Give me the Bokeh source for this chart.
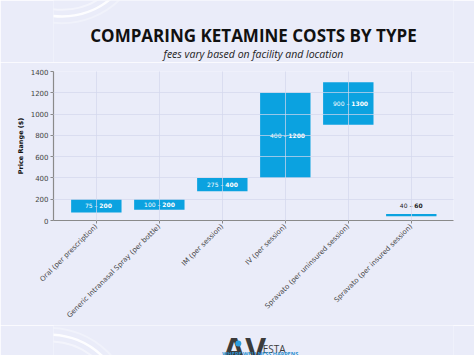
import math
from bokeh.plotting import figure
from bokeh.layouts import column
from bokeh.models import ColumnDataSource, FixedTicker, Range1d
from bokeh.core.properties import value
from bokeh.embed import file_html
from bokeh.resources import INLINE

# ---------------- data ----------------
categories = [
    "Oral (per prescription)",
    "Generic Intranasal Spray (per bottle)",
    "IM (per session)",
    "IV (per session)",
    "Spravato (per uninsured session)",
    "Spravato (per insured session)",
]
low_prices = [75, 100, 275, 400, 900, 40]
high_prices = [200, 200, 400, 1200, 1300, 60]
y_ticks = [0, 200, 400, 600, 800, 1000, 1200, 1400]

title_text = "COMPARING KETAMINE COSTS BY TYPE"
subtitle_text = "fees vary based on facility and location"
y_label = "Price Range ($)"

BG = "#EAECF9"
BAR = "#0BA2E0"
W = 474
HEAD_H, MAIN_H, FOOT_H = 62, 263, 30


def blank_fig(h):
    f = figure(width=W, height=h, output_backend="svg", toolbar_location=None,
               x_range=Range1d(0, W), y_range=Range1d(0, h),
               x_axis_location=None, y_axis_location=None,
               min_border=0, min_border_left=0, min_border_right=0,
               min_border_top=0, min_border_bottom=0,
               background_fill_color=BG, border_fill_color=BG, outline_line_color=None)
    f.grid.visible = False
    return f


# ---------------- header ----------------
head = blank_fig(HEAD_H)
for r, a, lw in [(90, 0.9, 2.5), (82, 0.45, 2.0), (98, 0.3, 2.0)]:
    head.circle(x=[10], y=[HEAD_H + 60], radius=r, fill_color=None,
                line_color="white", line_alpha=a, line_width=lw)
head.text(x=[237], y=[HEAD_H - 35], text=[title_text], text_align="center",
          text_baseline="middle", text_font=value("Open Sans"), text_font_style="bold",
          text_font_size="17px", text_color="#111111")
head.text(x=[237], y=[HEAD_H - 53], text=[subtitle_text], text_align="center",
          text_baseline="middle", text_font=value("Open Sans"), text_font_style="italic",
          text_font_size="10.5px", text_color="#222222")

# ---------------- main chart ----------------
xs = list(range(len(categories)))
tall = [(h - l) >= 100 for l, h in zip(low_prices, high_prices)]
src = ColumnDataSource(dict(
    x=xs,
    low=low_prices,
    high=high_prices,
    ty=[(l + h) / 2 if t else h for l, h, t in zip(low_prices, high_prices, tall)],
    tyoff=[0 if t else -9 for t in tall],
    lo_txt=[f"{l} \u2013 " for l in low_prices],
    hi_txt=[f"{h}" for h in high_prices],
    col=["white" if t else "#222222" for t in tall],
))

p = figure(width=W, height=MAIN_H, output_backend="svg", toolbar_location=None,
           x_range=Range1d(-0.68, 5.67), y_range=Range1d(0, 1400),
           min_border_left=53, min_border_right=21, min_border_top=9, min_border_bottom=103,
           background_fill_color=BG, border_fill_color=BG, outline_line_color=None)

p.vbar(x="x", bottom="low", top="high", width=0.8, source=src,
       fill_color=BAR, line_color=None)

p.text(x="x", y="ty", text="lo_txt", source=src, text_color="col",
       text_font=value("DejaVu Sans"), text_font_size="6px",
       text_align="right", text_baseline="middle", x_offset=3, y_offset="tyoff")
p.text(x="x", y="ty", text="hi_txt", source=src, text_color="col",
       text_font=value("DejaVu Sans"), text_font_size="6px", text_font_style="bold",
       text_align="left", text_baseline="middle", x_offset=3, y_offset="tyoff")

p.xaxis.ticker = FixedTicker(ticks=xs)
p.xaxis.major_label_overrides = {i: c for i, c in enumerate(categories)}
p.xaxis.major_label_orientation = math.pi / 4
p.yaxis.ticker = FixedTicker(ticks=y_ticks)
p.yaxis.axis_label = y_label
for ax in (p.xaxis, p.yaxis):
    ax.axis_line_color = "#8a8a8a"
    ax.axis_line_width = 1.2
    ax.major_tick_line_color = "#8a8a8a"
    ax.major_tick_in = 0
    ax.major_tick_out = 3
    ax.minor_tick_line_color = None
    ax.major_label_text_font = "DejaVu Sans"
    ax.major_label_text_font_size = "7px"
    ax.major_label_text_color = "#444444"
    ax.major_label_standoff = 2
p.yaxis.axis_label_text_font = "DejaVu Sans"
p.yaxis.axis_label_text_font_style = "bold"
p.yaxis.axis_label_text_font_size = "6.5px"
p.yaxis.axis_label_text_color = "#111111"
p.yaxis.axis_label_standoff = 3

for g in (p.xgrid, p.ygrid):
    g.grid_line_color = "#d3d7ec"
    g.grid_line_alpha = 0.7
    g.level = "overlay"

# ---------------- footer (logo) ----------------
foot = blank_fig(FOOT_H)
for r, a, lw in [(90, 0.9, 2.5), (82, 0.45, 2.0), (98, 0.3, 2.0)]:
    foot.circle(x=[-5], y=[-55], radius=r, fill_color=None,
                line_color="white", line_alpha=a, line_width=lw)
foot.text(x=[201], y=[FOOT_H - 23], text=["AV"], text_align="left",
          text_baseline="alphabetic", text_font=value("Open Sans"), text_font_style="bold",
          text_font_size="32px", text_color="#3b3b3b")
foot.scatter(x=[219], y=[FOOT_H - 18], marker="circle", size=6,
             fill_color="#2a9ee0", line_color=None)
foot.text(x=[248], y=[FOOT_H - 23], text=["ESTA"], text_align="left",
          text_baseline="alphabetic", text_font=value("Open Sans"),
          text_font_size="10px", text_color="#3b3b3b")
foot.text(x=[200], y=[FOOT_H - 28], text=["WHERE WELLNESS HAPPENS"], text_align="left",
          text_baseline="alphabetic", text_font=value("Open Sans"), text_font_style="bold",
          text_font_size="5.5px", text_color="#2a8fd0")

layout = column(head, p, foot, spacing=0)
open("out.html", "w").write(file_html(layout, INLINE))
